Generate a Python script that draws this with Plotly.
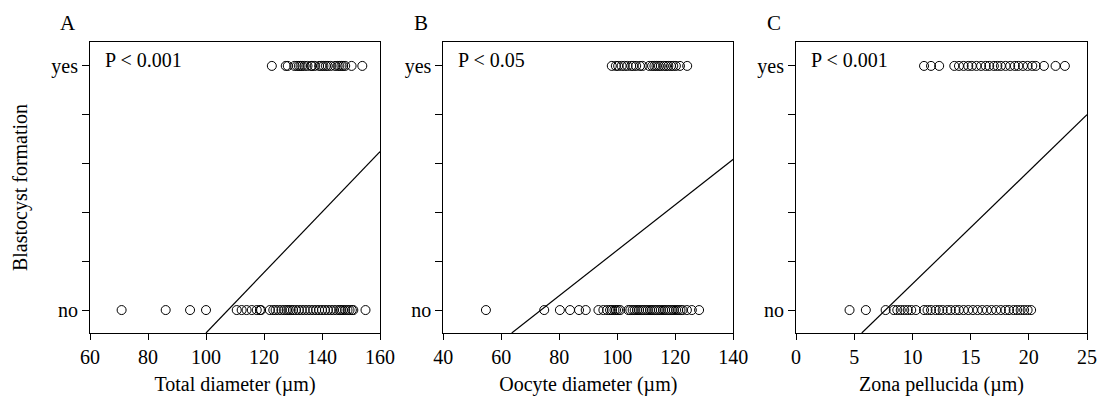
import plotly.graph_objects as go

# ---------------- data ----------------
outcome_ticks = [0, 0.2, 0.4, 0.6, 0.8, 1.0]
outcome_labels = ["no", "", "", "", "", "yes"]

A_yes = [122.7, 127.5, 128.2, 130.5, 131.3, 132.0, 132.6, 133.2, 134.0, 135.0, 136.3, 136.6,
         137.5, 139.0, 139.8, 140.5, 141.3, 142.0, 143.0, 144.5, 145.4, 146.0, 146.7, 147.3,
         148.0, 150.2, 153.9]
A_no = [70.9, 86.1, 94.5, 100.0, 110.6, 112.3, 114.0, 115.8, 117.5, 118.6, 119.0, 122.0,
        123.2, 124.0, 125.0, 126.0, 127.0, 127.8, 128.5, 129.2, 130.0, 131.0, 132.0, 133.0,
        134.0, 135.0, 136.0, 137.0, 138.0, 139.0, 140.0, 141.0, 142.0, 143.0, 144.0, 145.0,
        146.0, 146.5, 147.2, 148.0, 148.8, 149.5, 150.3, 150.8, 155.0]
A_fit_x = [100.0, 160.0]
A_fit_y = [-0.094, 0.649]

B_yes = [98.1, 99.5, 100.3, 101.5, 102.5, 103.5, 104.8, 105.5, 106.5, 107.8, 108.7, 111.0,
         112.0, 112.8, 113.5, 114.3, 115.0, 116.0, 116.8, 117.6, 118.5, 119.3, 120.2, 121.6,
         124.1]
B_no = [54.7, 74.8, 80.2, 83.7, 86.8, 89.1, 93.5, 95.2, 96.5, 97.5, 98.2, 99.0, 99.6, 100.3,
        101.0, 103.8, 104.5, 105.3, 106.0, 106.8, 107.5, 108.3, 109.0, 109.8, 110.5, 111.3,
        112.0, 112.8, 113.5, 114.3, 115.0, 115.8, 116.5, 117.3, 118.0, 118.8, 119.5, 120.3,
        121.0, 121.8, 122.5, 124.0, 125.7, 128.2]
B_fit_x = [63.6, 140.0]
B_fit_y = [-0.094, 0.618]

C_yes = [11.0, 11.6, 12.3, 13.6, 14.0, 14.4, 14.8, 15.1, 15.5, 15.9, 16.3, 16.6, 17.0, 17.3,
         17.6, 18.0, 18.4, 18.8, 19.1, 19.5, 19.9, 20.3, 20.6, 21.3, 22.3, 23.1]
C_no = [4.6, 6.0, 7.7, 8.4, 8.7, 9.0, 9.3, 9.6, 9.9, 10.3, 11.0, 11.3, 11.6, 12.0, 12.3, 12.6,
        13.0, 13.3, 13.7, 14.0, 14.4, 14.8, 15.2, 15.6, 16.0, 16.4, 16.8, 17.2, 17.6, 18.0,
        18.3, 18.7, 19.0, 19.3, 19.6, 19.9, 20.2]
C_fit_x = [5.65, 25.0]
C_fit_y = [-0.094, 0.80]

panels = [
    dict(letter="A", p="P < 0.001", title="Total diameter (\u00b5m)", yes=A_yes, no=A_no,
         fx=A_fit_x, fy=A_fit_y, xrange=[60, 160], xticks=[60, 80, 100, 120, 140, 160]),
    dict(letter="B", p="P < 0.05", title="Oocyte diameter (\u00b5m)", yes=B_yes, no=B_no,
         fx=B_fit_x, fy=B_fit_y, xrange=[40, 140], xticks=[40, 60, 80, 100, 120, 140]),
    dict(letter="C", p="P < 0.001", title="Zona pellucida (\u00b5m)", yes=C_yes, no=C_no,
         fx=C_fit_x, fy=C_fit_y, xrange=[0, 25], xticks=[0, 5, 10, 15, 20, 25]),
]

# ---------------- figure ----------------
W, H = 1099, 417
T, B = 42, 84
PH = H - T - B
FONT = "Liberation Serif, Times New Roman, serif"
domains_px = [(90, 380), (443.3, 733.3), (796, 1087)]

fig = go.Figure()
layout = dict(
    template="none",
    width=W, height=H,
    margin=dict(l=0, r=0, t=T, b=B, pad=0),
    paper_bgcolor="white", plot_bgcolor="white",
    showlegend=False,
    font=dict(family=FONT, size=20, color="black"),
)
annotations = []

for i, pn in enumerate(panels):
    n = "" if i == 0 else str(i + 1)
    xa, ya = "x" + n, "y" + n
    marker = dict(symbol="circle-open", size=9, color="black", line=dict(width=1, color="black"))
    fig.add_trace(go.Scatter(x=pn["no"], y=[0] * len(pn["no"]), mode="markers",
                             marker=marker, xaxis=xa, yaxis=ya, hoverinfo="x"))
    fig.add_trace(go.Scatter(x=pn["yes"], y=[1] * len(pn["yes"]), mode="markers",
                             marker=marker, xaxis=xa, yaxis=ya, hoverinfo="x"))
    fig.add_trace(go.Scatter(x=pn["fx"], y=pn["fy"], mode="lines",
                             line=dict(color="black", width=1.2), xaxis=xa, yaxis=ya,
                             hoverinfo="skip"))
    d0, d1 = domains_px[i]
    layout["xaxis" + n] = dict(
        domain=[d0 / W, d1 / W], range=pn["xrange"], anchor=ya, automargin=False,
        tickvals=pn["xticks"], ticks="outside", ticklen=6, tickwidth=1, tickcolor="black",
        showline=True, linecolor="black", linewidth=1, mirror=True,
        showgrid=False, zeroline=False,
        tickfont=dict(family=FONT, size=20),
        title=dict(text=pn["title"], font=dict(family=FONT, size=20), standoff=9),
    )
    yax = dict(
        domain=[0, 1], range=[-0.094, 1.098], anchor=xa, automargin=False,
        tickvals=outcome_ticks, ticktext=outcome_labels,
        ticks="outside", ticklen=7, tickwidth=1, tickcolor="black",
        showline=True, linecolor="black", linewidth=1, mirror=True,
        showgrid=False, zeroline=False,
        tickfont=dict(family=FONT, size=20),
    )
    if i == 0:
        yax["title"] = dict(text="Blastocyst formation", font=dict(family=FONT, size=20),
                            standoff=18)
    layout["yaxis" + n] = yax
    annotations.append(dict(text=pn["p"], xref=xa + " domain", yref=ya + " domain",
                            x=0.044, y=0.938, xanchor="left", yanchor="middle",
                            showarrow=False, font=dict(family=FONT, size=20)))
    annotations.append(dict(text=pn["letter"], xref="paper", yref="paper",
                            x=(d0 - 22) / W, y=(H - B - 23) / PH, xanchor="center",
                            yanchor="middle", showarrow=False,
                            font=dict(family=FONT, size=21)))

layout["annotations"] = annotations
fig.update_layout(**layout)
fig.write_html("out.html")
